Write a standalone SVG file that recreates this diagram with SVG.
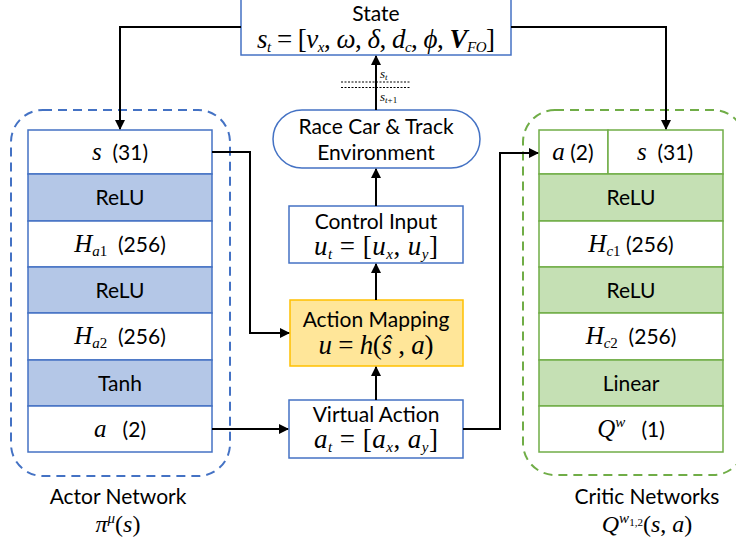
<svg xmlns="http://www.w3.org/2000/svg" width="736" height="542" viewBox="0 0 736 542">
<defs>
<marker id="ah" viewBox="0 0 10 10" refX="9" refY="5" markerWidth="5" markerHeight="5" orient="auto-start-reverse" markerUnits="strokeWidth">
<path d="M0,0 L10,5 L0,10 z" fill="#000"/>
</marker>
<style>
.t{font-family:Lato,"Liberation Sans",sans-serif;font-size:21px;fill:#000}
.m{font-family:"Liberation Serif","DejaVu Serif",serif;font-style:italic}
.u{font-family:"Liberation Serif","DejaVu Serif",serif;font-style:normal}
.sub{font-size:15px}
.bw{fill:#fff;stroke:#4472C4;stroke-width:1.5}
.bb{fill:#B4C7E7;stroke:#4472C4;stroke-width:1.5}
.gw{fill:#fff;stroke:#70AD47;stroke-width:1.5}
.gg{fill:#C5E0B4;stroke:#70AD47;stroke-width:1.5}
.yl{fill:#FFE699;stroke:#FFC000;stroke-width:1.5}
.ca{fill:none;stroke:#000;stroke-width:2;marker-end:url(#ah)}
.dash{fill:none;stroke-width:2;stroke-dasharray:9,6}
</style>
</defs>

<g id="actor-group">
<rect class="dash" x="11" y="110" width="219" height="366" rx="32" stroke="#4472C4"/>
<text class="t" x="118" y="504" text-anchor="middle">Actor Network</text>
<text class="t" x="118" y="532" text-anchor="middle"><tspan class="m" font-size="24">π</tspan><tspan class="m sub" dy="-9">μ</tspan><tspan class="u" font-size="24" dy="9">(</tspan><tspan class="m" font-size="24">s</tspan><tspan class="u" font-size="24">)</tspan></text>
</g>
<g id="critic-group">
<rect class="dash" x="523" y="110" width="222" height="365" rx="32" stroke="#70AD47"/>
<text class="t" x="647" y="504" text-anchor="middle">Critic Networks</text>
<text class="t" x="647" y="532" text-anchor="middle"><tspan class="m" font-size="24">Q</tspan><tspan class="m sub" dy="-9">w</tspan><tspan class="u" font-size="11" dy="3">1,2</tspan><tspan class="u" font-size="24" dy="6">(</tspan><tspan class="m" font-size="24">s</tspan><tspan class="u" font-size="24">, </tspan><tspan class="m" font-size="24">a</tspan><tspan class="u" font-size="24">)</tspan></text>
</g>

<g id="actor-s">
<rect class="bw" x="28" y="130" width="184" height="44"/>
<text class="t" x="120" y="160" text-anchor="middle"><tspan class="m" font-size="25">s</tspan>&#160;&#160;(31)</text>
</g>
<g id="actor-relu1">
<rect class="bb" x="28" y="174" width="184" height="47"/>
<text class="t" x="120" y="205" text-anchor="middle">ReLU</text>
</g>
<g id="actor-ha1">
<rect class="bw" x="28" y="221" width="184" height="46"/>
<text class="t" x="120" y="252" text-anchor="middle"><tspan class="m" font-size="25">H</tspan><tspan class="m sub" dy="4">a</tspan><tspan class="u sub">1</tspan><tspan dy="-4">&#160;&#160;(256)</tspan></text>
</g>
<g id="actor-relu2">
<rect class="bb" x="28" y="267" width="184" height="46"/>
<text class="t" x="120" y="298" text-anchor="middle">ReLU</text>
</g>
<g id="actor-ha2">
<rect class="bw" x="28" y="313" width="184" height="47"/>
<text class="t" x="120" y="344" text-anchor="middle"><tspan class="m" font-size="25">H</tspan><tspan class="m sub" dy="4">a</tspan><tspan class="u sub">2</tspan><tspan dy="-4">&#160;&#160;(256)</tspan></text>
</g>
<g id="actor-tanh">
<rect class="bb" x="28" y="360" width="184" height="46"/>
<text class="t" x="120" y="391" text-anchor="middle">Tanh</text>
</g>
<g id="actor-a">
<rect class="bw" x="28" y="406" width="184" height="46"/>
<text class="t" x="120" y="437" text-anchor="middle"><tspan class="m" font-size="25">a</tspan>&#160;&#160;&#160;(2)</text>
</g>

<g id="critic-a">
<rect class="gw" x="539" y="130" width="69" height="44"/>
<text class="t" x="573" y="160" text-anchor="middle"><tspan class="m" font-size="25">a</tspan> (2)</text>
</g>
<g id="critic-s">
<rect class="gw" x="608" y="130" width="115" height="44"/>
<text class="t" x="665" y="160" text-anchor="middle"><tspan class="m" font-size="25">s</tspan>&#160;&#160;(31)</text>
</g>
<g id="critic-relu1">
<rect class="gg" x="539" y="174" width="184" height="47"/>
<text class="t" x="631" y="205" text-anchor="middle">ReLU</text>
</g>
<g id="critic-hc1">
<rect class="gw" x="539" y="221" width="184" height="46"/>
<text class="t" x="631" y="252" text-anchor="middle"><tspan class="m" font-size="25">H</tspan><tspan class="m sub" dy="4">c</tspan><tspan class="u sub">1</tspan><tspan dy="-4"> (256)</tspan></text>
</g>
<g id="critic-relu2">
<rect class="gg" x="539" y="267" width="184" height="46"/>
<text class="t" x="631" y="298" text-anchor="middle">ReLU</text>
</g>
<g id="critic-hc2">
<rect class="gw" x="539" y="313" width="184" height="47"/>
<text class="t" x="631" y="344" text-anchor="middle"><tspan class="m" font-size="25">H</tspan><tspan class="m sub" dy="4">c</tspan><tspan class="u sub">2</tspan><tspan dy="-4">&#160;&#160;(256)</tspan></text>
</g>
<g id="critic-linear">
<rect class="gg" x="539" y="360" width="184" height="46"/>
<text class="t" x="631" y="391" text-anchor="middle">Linear</text>
</g>
<g id="critic-q">
<rect class="gw" x="539" y="406" width="184" height="46"/>
<text class="t" x="631" y="437" text-anchor="middle"><tspan class="m" font-size="25">Q</tspan><tspan class="m sub" dy="-10">w</tspan><tspan dy="10">&#160;&#160;&#160;(1)</tspan></text>
</g>

<g id="state">
<rect class="bw" x="241" y="-5" width="270" height="60"/>
<text class="t" x="376" y="21" text-anchor="middle">State</text>
<text x="376" y="48" text-anchor="middle" font-size="27" textLength="238" lengthAdjust="spacing"><tspan class="m">s</tspan><tspan class="m sub" dy="4">t</tspan><tspan class="u" dy="-4"> = [</tspan><tspan class="m">v</tspan><tspan class="m sub" dy="4">x</tspan><tspan class="u" dy="-4">, </tspan><tspan class="m">ω</tspan><tspan class="u">, </tspan><tspan class="m">δ</tspan><tspan class="u">, </tspan><tspan class="m">d</tspan><tspan class="m sub" dy="4">c</tspan><tspan class="u" dy="-4">, </tspan><tspan class="m">ϕ</tspan><tspan class="u">, </tspan><tspan class="m" font-weight="bold">V</tspan><tspan class="m sub" dy="4">FO</tspan><tspan class="u" dy="-4">]</tspan></text>
</g>

<g id="environment">
<rect class="bw" x="273" y="110" width="207" height="58" rx="29"/>
<text class="t" x="376" y="134" text-anchor="middle">Race Car &amp; Track</text>
<text class="t" x="376" y="160" text-anchor="middle">Environment</text>
</g>

<g id="control-input">
<rect class="bw" x="289" y="206" width="174" height="57"/>
<text class="t" x="376" y="229" text-anchor="middle">Control Input</text>
<text x="376" y="255" text-anchor="middle" font-size="27" textLength="124" lengthAdjust="spacing"><tspan class="m">u</tspan><tspan class="m sub" dy="4">t</tspan><tspan class="u" dy="-4"> = [</tspan><tspan class="m">u</tspan><tspan class="m sub" dy="4">x</tspan><tspan class="u" dy="-4">, </tspan><tspan class="m">u</tspan><tspan class="m sub" dy="4">y</tspan><tspan class="u" dy="-4">]</tspan></text>
</g>

<g id="action-mapping">
<rect class="yl" x="290" y="300" width="173" height="66"/>
<text class="t" x="376" y="327" text-anchor="middle">Action Mapping</text>
<text x="376" y="354" text-anchor="middle" font-size="27" textLength="115" lengthAdjust="spacing"><tspan class="m">u</tspan><tspan class="u"> = </tspan><tspan class="m">h</tspan><tspan class="u">(</tspan><tspan class="m">ŝ</tspan><tspan class="u"> , </tspan><tspan class="m">a</tspan><tspan class="u">)</tspan></text>
</g>

<g id="virtual-action">
<rect class="bw" x="289" y="400" width="174" height="58"/>
<text class="t" x="376" y="422" text-anchor="middle">Virtual Action</text>
<text x="376" y="448" text-anchor="middle" font-size="27" textLength="124" lengthAdjust="spacing"><tspan class="m">a</tspan><tspan class="m sub" dy="4">t</tspan><tspan class="u" dy="-4"> = [</tspan><tspan class="m">a</tspan><tspan class="m sub" dy="4">x</tspan><tspan class="u" dy="-4">, </tspan><tspan class="m">a</tspan><tspan class="m sub" dy="4">y</tspan><tspan class="u" dy="-4">]</tspan></text>
</g>

<g id="connectors">
<polyline class="ca" points="241,27 120,27 120,129"/>
<polyline class="ca" points="511,27 666,27 666,129"/>
<line class="ca" x1="376" y1="110" x2="376" y2="56"/>
<line x1="341" y1="82" x2="411" y2="82" stroke="#000" stroke-width="1" stroke-dasharray="2,1.5"/>
<line x1="341" y1="87.5" x2="411" y2="87.5" stroke="#000" stroke-width="1" stroke-dasharray="2,1.5"/>
<text x="380" y="78" font-size="13"><tspan class="m">s</tspan><tspan class="m" font-size="9" dy="2">t</tspan></text>
<text x="380" y="101" font-size="13"><tspan class="m">s</tspan><tspan class="m" font-size="9" dy="2">t</tspan><tspan class="u" font-size="9">+1</tspan></text>
<line class="ca" x1="376" y1="206" x2="376" y2="169"/>
<line class="ca" x1="376" y1="300" x2="376" y2="264"/>
<line class="ca" x1="376" y1="400" x2="376" y2="367"/>
<polyline class="ca" points="212,152 250,152 250,333 289,333"/>
<line class="ca" x1="212" y1="429" x2="288" y2="429"/>
<polyline class="ca" points="463,429 500,429 500,153 538,153"/>
</g>
</svg>
